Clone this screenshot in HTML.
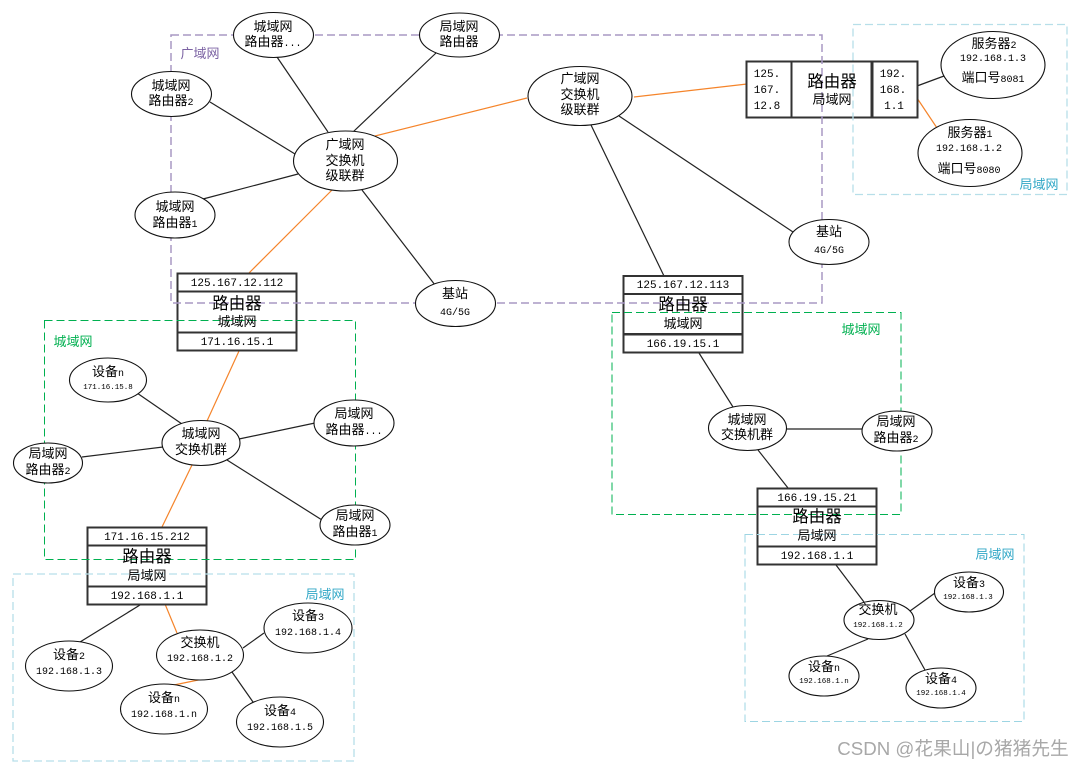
<!DOCTYPE html>
<html><head><meta charset="utf-8"><style>
html,body{margin:0;padding:0;background:#fff}
svg{display:block}
text{font-family:"Liberation Mono","WenQuanYi Zen Hei","Noto Sans CJK SC",monospace;font-size:13px;text-anchor:middle;fill:#000}
.b{font-size:16.500px}
.m{font-size:11px}
.s{font-size:10px}.t{font-size:7.500px}
.l{stroke:#222;stroke-width:1.2;fill:none}
.o{stroke:#f5842a;stroke-width:1.2;fill:none}
ellipse{fill:#fff;stroke:#111;stroke-width:1.1}
.r{fill:#fff;stroke:#333;stroke-width:2}
.f{fill:none}
</style></head><body>
<svg width="1084" height="768" viewBox="0 0 1084 768" xmlns="http://www.w3.org/2000/svg">
<!-- connectors -->
<g class="l">
<line x1="277" y1="57" x2="328" y2="132"/><line x1="436" y1="53" x2="353" y2="132"/>
<line x1="210" y1="102" x2="295" y2="154"/><line x1="203" y1="199" x2="298" y2="174"/>
<line x1="362" y1="190" x2="435" y2="285"/>
<line x1="591" y1="125" x2="664" y2="276"/><line x1="619" y1="116" x2="793" y2="232"/>
<line x1="917" y1="86" x2="944" y2="76"/>
<line x1="137" y1="393" x2="182" y2="424"/><line x1="82" y1="457" x2="163" y2="447"/>
<line x1="239" y1="439" x2="315" y2="423"/><line x1="227" y1="460" x2="322" y2="520"/>
<line x1="140" y1="605" x2="80" y2="642"/><line x1="243" y1="648" x2="264" y2="633"/><line x1="232" y1="672" x2="253" y2="702"/>
<line x1="699" y1="353" x2="733" y2="407"/><line x1="786" y1="429" x2="862" y2="429"/><line x1="758" y1="450" x2="788" y2="488"/>
<line x1="836" y1="565" x2="864" y2="602"/><line x1="910" y1="611" x2="935" y2="593"/><line x1="868" y1="639" x2="827" y2="656"/><line x1="905" y1="634" x2="925" y2="670"/>
</g>
<g class="o">
<line x1="375" y1="136" x2="527" y2="98"/><line x1="634" y1="97" x2="747" y2="84"/>
<line x1="332" y1="190" x2="249" y2="273"/><line x1="239" y1="351" x2="207" y2="421"/>
<line x1="192" y1="465" x2="162" y2="527"/><line x1="165" y1="604" x2="177" y2="633"/>
<line x1="203" y1="679" x2="174" y2="685"/><line x1="917" y1="98" x2="937" y2="128"/>
</g>
<!-- routers -->
<g>
<rect class="r" x="177.500" y="273.500" width="119" height="18"/><rect class="r" x="177.500" y="291.500" width="119" height="41"/><rect class="r" x="177.500" y="332.500" width="119" height="18"/>
<rect class="r" x="623.500" y="276" width="119" height="18"/><rect class="r" x="623.500" y="294" width="119" height="40"/><rect class="r" x="623.500" y="334.500" width="119" height="18"/>
<rect class="r" x="87.500" y="527.500" width="119" height="18"/><rect class="r" x="87.500" y="545.500" width="119" height="41"/><rect class="r" x="87.500" y="586.500" width="119" height="18"/>
<rect class="r" x="757.500" y="488.500" width="119" height="18"/><rect class="r" x="757.500" y="506.500" width="119" height="40"/><rect class="r" x="757.500" y="546.500" width="119" height="18"/>
<rect class="r" x="746.500" y="61.500" width="45" height="56"/><rect class="r" x="791.500" y="61.500" width="80" height="56"/><rect class="r" x="872.500" y="61.500" width="45" height="56"/>
</g>
<!-- dashed regions -->
<rect class="f" x="171" y="35" width="651" height="268" stroke="#a898c4" stroke-width="1.500" stroke-dasharray="8 4"/>
<rect class="f" x="44.500" y="320.500" width="311" height="239" stroke="#00b050" stroke-width="1" stroke-dasharray="8 4"/>
<rect class="f" x="612" y="312.500" width="289" height="202" stroke="#00b050" stroke-width="1" stroke-dasharray="8 4"/>
<rect class="f" x="13" y="574" width="341" height="187" stroke="#b7dfe9" stroke-width="1.300" stroke-dasharray="8 4"/>
<rect class="f" x="745" y="534.500" width="279" height="187" stroke="#9dd5e3" stroke-width="1" stroke-dasharray="8 4"/>
<rect class="f" x="853" y="24.500" width="214" height="170" stroke="#b7dfe9" stroke-width="1.300" stroke-dasharray="8 4"/>
<!-- region labels -->
<text x="200" y="58" style="fill:#7b62a3">广域网</text>
<text x="73" y="346" style="fill:#00b050">城域网</text>
<text x="861" y="334" style="fill:#00b050">城域网</text>
<text x="325" y="599" style="fill:#31a7c6">局域网</text>
<text x="995" y="559" style="fill:#31a7c6">局域网</text>
<text x="1039" y="189" style="fill:#31a7c6">局域网</text>
<!-- ellipses -->
<ellipse cx="273.500" cy="35" rx="40" ry="22.500"/><text x="273" y="31">城域网</text><text x="273" y="46">路由器<tspan class="s">...</tspan></text>
<ellipse cx="459.500" cy="35" rx="40" ry="22"/><text x="459" y="31">局域网</text><text x="459" y="46">路由器</text>
<ellipse cx="171.500" cy="94" rx="40" ry="22.500"/><text x="171" y="90">城域网</text><text x="171" y="105">路由器<tspan class="s">2</tspan></text>
<ellipse cx="345.500" cy="161" rx="52" ry="30"/><text x="345" y="149">广域网</text><text x="345" y="165">交换机</text><text x="345" y="180">级联群</text>
<ellipse cx="175" cy="215" rx="40" ry="23"/><text x="175" y="211">城域网</text><text x="175" y="227">路由器<tspan class="s">1</tspan></text>
<ellipse cx="455.500" cy="303.500" rx="40" ry="23"/><text x="455" y="298">基站</text><text x="455" y="315" class="s">4G/5G</text>
<ellipse cx="580" cy="96" rx="52" ry="29.500"/><text x="580" y="83">广域网</text><text x="580" y="99">交换机</text><text x="580" y="114">级联群</text>
<ellipse cx="829" cy="242" rx="40" ry="22.500"/><text x="829" y="236">基站</text><text x="829" y="253" class="s">4G/5G</text>
<ellipse cx="993" cy="65" rx="52" ry="33.500"/><text x="994" y="48">服务器<tspan class="s">2</tspan></text><text x="993" y="61" class="s">192.168.1.3</text><text x="993" y="82">端口号<tspan class="s">8081</tspan></text>
<ellipse cx="970" cy="153" rx="52" ry="33.500"/><text x="970" y="137">服务器<tspan class="s">1</tspan></text><text x="969" y="151" class="s">192.168.1.2</text><text x="969" y="173">端口号<tspan class="s">8080</tspan></text>
<ellipse cx="108" cy="380" rx="38.500" ry="22"/><text x="108" y="376">设备<tspan class="s">n</tspan></text><text x="108" y="389" class="t">171.16.15.8</text>
<ellipse cx="201" cy="443" rx="39" ry="22.500"/><text x="201" y="438">城域网</text><text x="201" y="454">交换机群</text>
<ellipse cx="354" cy="423" rx="40" ry="23"/><text x="354" y="418">局域网</text><text x="354" y="434">路由器<tspan class="s">...</tspan></text>
<ellipse cx="48" cy="463" rx="34.500" ry="20"/><text x="48" y="458">局域网</text><text x="48" y="474">路由器<tspan class="s">2</tspan></text>
<ellipse cx="355" cy="525" rx="35" ry="20"/><text x="355" y="520">局域网</text><text x="355" y="536">路由器<tspan class="s">1</tspan></text>
<ellipse cx="69" cy="666" rx="43.500" ry="25"/><text x="69" y="659">设备<tspan class="s">2</tspan></text><text x="69" y="674" class="s">192.168.1.3</text>
<ellipse cx="200" cy="655" rx="43.500" ry="25"/><text x="200" y="647">交换机</text><text x="200" y="661" class="s">192.168.1.2</text>
<ellipse cx="308" cy="628" rx="44" ry="25"/><text x="308" y="620">设备<tspan class="s">3</tspan></text><text x="308" y="635" class="s">192.168.1.4</text>
<ellipse cx="164" cy="709" rx="43.500" ry="25"/><text x="164" y="702">设备<tspan class="s">n</tspan></text><text x="164" y="717" class="s">192.168.1.n</text>
<ellipse cx="280" cy="722" rx="43.500" ry="25"/><text x="280" y="715">设备<tspan class="s">4</tspan></text><text x="280" y="730" class="s">192.168.1.5</text>
<ellipse cx="747.500" cy="428" rx="39" ry="22.500"/><text x="747" y="424">城域网</text><text x="747" y="439">交换机群</text>
<ellipse cx="897" cy="431" rx="35" ry="20"/><text x="896" y="426">局域网</text><text x="896" y="442">路由器<tspan class="s">2</tspan></text>
<ellipse cx="879" cy="620" rx="35" ry="19.500"/><text x="878" y="614">交换机</text><text x="878" y="627" class="t">192.168.1.2</text>
<ellipse cx="969" cy="592" rx="34.500" ry="20"/><text x="969" y="587">设备<tspan class="s">3</tspan></text><text x="968" y="599" class="t">192.168.1.3</text>
<ellipse cx="824" cy="676" rx="35" ry="20"/><text x="824" y="671">设备<tspan class="s">n</tspan></text><text x="824" y="683" class="t">192.168.1.n</text>
<ellipse cx="941" cy="688" rx="35" ry="20"/><text x="941" y="683">设备<tspan class="s">4</tspan></text><text x="941" y="695" class="t">192.168.1.4</text>
<!-- router labels -->
<text x="237" y="286" class="m">125.167.12.112</text><text x="237" y="309" class="b">路由器</text><text x="237" y="326">城域网</text><text x="237" y="345" class="m">171.16.15.1</text>
<text x="683" y="288" class="m">125.167.12.113</text><text x="683" y="310" class="b">路由器</text><text x="683" y="328">城域网</text><text x="683" y="347" class="m">166.19.15.1</text>
<text x="147" y="540" class="m">171.16.15.212</text><text x="147" y="562" class="b">路由器</text><text x="147" y="580">局域网</text><text x="147" y="599" class="m">192.168.1.1</text>
<text x="817" y="501" class="m">166.19.15.21</text><text x="817" y="522" class="b">路由器</text><text x="817" y="540">局域网</text><text x="817" y="559" class="m">192.168.1.1</text>
<text x="767" y="77" class="m">125.</text><text x="767" y="93" class="m">167.</text><text x="767" y="109" class="m">12.8</text>
<text x="832" y="87" class="b">路由器</text><text x="832" y="104">局域网</text>
<text x="893" y="77" class="m">192.</text><text x="893" y="93" class="m">168.</text><text x="894" y="109" class="m">1.1</text>
<!-- watermark -->
<text x="953" y="755" style="font-family:'Liberation Sans','WenQuanYi Zen Hei',sans-serif;font-size:18.700px;fill:#a8a8a8">CSDN @花果山|の猪猪先生</text>
</svg>
</body></html>
